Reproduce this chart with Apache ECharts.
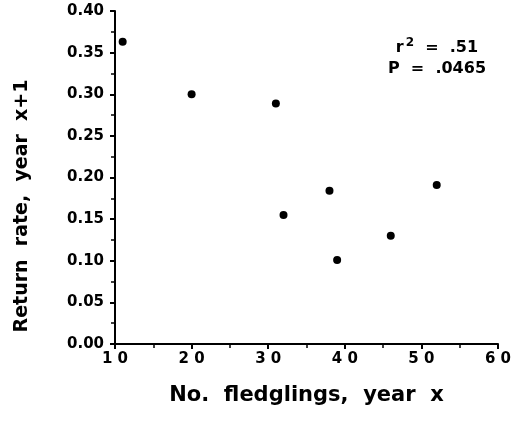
<!DOCTYPE html>
<html>
<head>
<meta charset="utf-8">
<script src="https://cdn.jsdelivr.net/npm/echarts@6/dist/echarts.min.js"></script>
<style>
  html, body { margin: 0; padding: 0; background: #fff; }
  #chart { width: 511px; height: 421px; }
</style>
</head>
<body>
<div id="chart"></div>
<script>
// data
const fledglings = [11, 20, 31, 32, 38, 39, 46, 52];
const returnRate = [0.363, 0.300, 0.289, 0.155, 0.184, 0.101, 0.130, 0.191];
const xTicks = [10, 20, 30, 40, 50, 60];
const yTicks = [0, 0.05, 0.10, 0.15, 0.20, 0.25, 0.30, 0.35, 0.40];
const statR2 = '.51';
const statP = '.0465';

const font = '"DejaVu Sans", "Liberation Sans", sans-serif';
const points = fledglings.map((x, i) => [x, returnRate[i]]);

const myChart = echarts.init(document.getElementById('chart'));

const axisCommon = {
    axisLine: { show: true, onZero: false, lineStyle: { color: '#000', width: 2 } },
    axisTick: { show: true, inside: false, length: 5, lineStyle: { color: '#000', width: 2 } },
    minorTick: { show: true, splitNumber: 2, length: 4, lineStyle: { color: '#000', width: 1.5 } },
    splitLine: { show: false },
};

myChart.setOption({
    animation: false,
    backgroundColor: '#fff',
    grid: { left: 115, right: 13, top: 11, bottom: 77, containLabel: false, outerBoundsMode: 'none' },
    xAxis: Object.assign({}, axisCommon, {
        type: 'value',
        min: xTicks[0],
        max: xTicks[xTicks.length - 1],
        interval: 10,
        name: 'No.  fledglings,  year  x',
        nameLocation: 'middle',
        nameGap: 41,
        nameTextStyle: { fontFamily: font, fontWeight: 'bold', fontSize: 21, color: '#000' },
        axisLabel: {
            margin: 8,
            fontFamily: font, fontWeight: 'bold', fontSize: 15, color: '#000',
            formatter: v => String(v).split('').join(' ')
        }
    }),
    yAxis: Object.assign({}, axisCommon, {
        type: 'value',
        min: yTicks[0],
        max: yTicks[yTicks.length - 1],
        interval: 0.05,
        axisLabel: {
            margin: 11,
            fontFamily: font, fontWeight: 'bold', fontSize: 15, color: '#000',
            formatter: v => v.toFixed(2)
        }
    }),
    graphic: [
        {
            // y axis title, sits lower than the axis middle in the original
            type: 'text',
            x: 22, y: 206,
            rotation: Math.PI / 2,
            style: {
                text: 'Return  rate,  year  x+1',
                align: 'center', verticalAlign: 'middle',
                fontFamily: font, fontWeight: 'bold', fontSize: 19, fill: '#000'
            }
        },
        {
            type: 'text',
            x: 437, y: 37,
            style: {
                text: '{t|r}{s|2}{t|  =  ' + statR2 + '}\n{t|P  =  ' + statP + '}',
                align: 'center',
                rich: {
                    t: { fontFamily: font, fontWeight: 'bold', fontSize: 16, fill: '#000', lineHeight: 21 },
                    s: { fontFamily: font, fontWeight: 'bold', fontSize: 12, fill: '#000', verticalAlign: 'top', lineHeight: 21, padding: [0, 0, 10, 2] }
                }
            }
        }
    ],
    series: [
        {
            type: 'scatter',
            data: points,
            symbol: 'circle',
            symbolSize: 8,
            itemStyle: { color: '#000', opacity: 1 }
        }
    ]
});
</script>
</body>
</html>
